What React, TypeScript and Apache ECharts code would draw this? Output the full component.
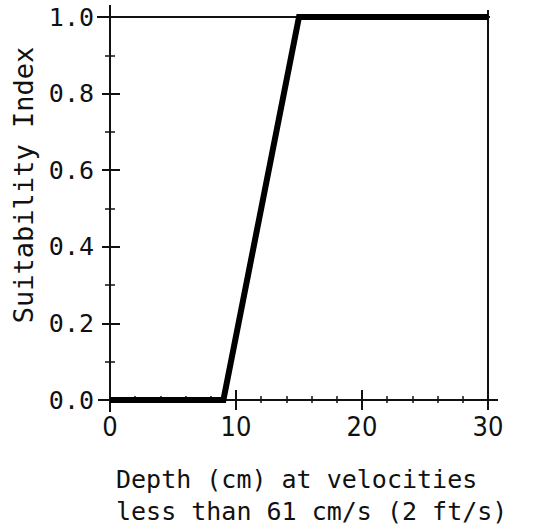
import React, { useEffect, useRef } from "react";
import * as echarts from "echarts";

// Data
const depthCm: number[] = [0, 9, 15, 30];
const suitability: number[] = [0, 0, 1, 1];
const xTicks: number[] = [0, 10, 20, 30];
const yTicks: number[] = [0, 0.2, 0.4, 0.6, 0.8, 1.0];
const xTitleLines: string[] = ["Depth (cm) at velocities", "less than 61 cm/s (2 ft/s)"];
const yTitle = "Suitability Index";

const W = 534;
const H = 529;
const G = { left: 110, right: 46, top: 17, bottom: 129 };
const MONO = "'DejaVu Sans Mono', 'Liberation Mono', monospace";
const NARROW = "'DejaVu Sans Condensed', 'Liberation Sans Narrow', 'DejaVu Sans', sans-serif";
const INK = "#111";

export default function App() {
  const ref = useRef<HTMLDivElement>(null);
  useEffect(() => {
    if (!ref.current) return;
    const chart = echarts.init(ref.current, undefined, { renderer: "svg", width: W, height: H });
    const xMin = xTicks[0];
    const xMax = xTicks[xTicks.length - 1];
    const yMin = yTicks[0];
    const yMax = yTicks[yTicks.length - 1];
    const tickStyle = { color: INK, width: 2 };
    const minorStyle = { color: INK, width: 1.5 };
    const baseX = (extra: any) => ({
      type: "value",
      min: xMin,
      max: xMax,
      splitLine: { show: false },
      axisLine: { show: false },
      axisLabel: { show: false },
      ...extra,
    });
    const baseY = (extra: any) => ({
      type: "value",
      min: yMin,
      max: yMax,
      splitLine: { show: false },
      axisLine: { show: false },
      axisLabel: { show: false },
      ...extra,
    });
    const data = depthCm.map((d, i) => [d, suitability[i]]);
    const left = G.left;
    const right = W - G.right;
    const top = G.top;
    const bottom = H - G.bottom;
    chart.setOption({
      animation: false,
      backgroundColor: "#fff",
      grid: { left: G.left, right: G.right, top: G.top, bottom: G.bottom, containLabel: false },
      xAxis: [
        baseX({
          position: "bottom",
          interval: 10,
          axisTick: { show: true, inside: false, length: 10, lineStyle: tickStyle },
          axisLabel: {
            show: true,
            margin: 13,
            color: INK,
            fontFamily: NARROW,
            fontSize: 27,
          },
        }),
        baseX({
          position: "bottom",
          interval: 2,
          axisTick: { show: true, inside: true, length: 4, lineStyle: minorStyle },
        }),
        baseX({
          position: "top",
          interval: 10,
          axisTick: { show: true, inside: false, length: 10, lineStyle: tickStyle },
        }),
        baseX({
          position: "top",
          interval: 2,
          axisTick: { show: true, inside: true, length: 3, lineStyle: minorStyle },
        }),
      ],
      yAxis: [
        baseY({
          position: "left",
          interval: 0.2,
          axisTick: { show: true, inside: false, length: 8, lineStyle: tickStyle },
          axisLabel: {
            show: true,
            margin: 16,
            color: INK,
            fontFamily: MONO,
            fontSize: 25,
            formatter: (v: number) => v.toFixed(1),
          },
        }),
        baseY({
          position: "left",
          interval: 0.1,
          axisTick: { show: true, inside: true, length: 5, lineStyle: minorStyle },
        }),
        baseY({
          position: "right",
          interval: 0.2,
          axisTick: { show: true, inside: false, length: 10, lineStyle: tickStyle },
        }),
        baseY({
          position: "right",
          interval: 0.1,
          axisTick: { show: true, inside: true, length: 5, lineStyle: minorStyle },
        }),
      ],
      series: [
        {
          type: "line",
          xAxisIndex: 0,
          yAxisIndex: 0,
          data,
          showSymbol: false,
          symbol: "none",
          clip: false,
          lineStyle: { color: "#000", width: 6, join: "miter" },
          z: 5,
        },
      ],
      graphic: [
        { type: "line", shape: { x1: left - 13, y1: top, x2: right + 2, y2: top }, style: { stroke: INK, lineWidth: 2 } },
        { type: "line", shape: { x1: left - 12, y1: bottom, x2: right + 10, y2: bottom }, style: { stroke: INK, lineWidth: 2 } },
        { type: "line", shape: { x1: left, y1: top - 12, x2: left, y2: bottom + 12 }, style: { stroke: INK, lineWidth: 2 } },
        { type: "line", shape: { x1: right, y1: top - 7, x2: right, y2: bottom + 10 }, style: { stroke: INK, lineWidth: 2 } },
        {
          type: "text",
          x: 23,
          y: 185,
          rotation: Math.PI / 2,
          style: {
            text: yTitle,
            fill: INK,
            font: `27px ${MONO}`,
            align: "center",
            verticalAlign: "middle",
            textAlign: "center",
            textVerticalAlign: "middle",
          },
        },
        {
          type: "text",
          x: 116,
          y: 463,
          style: {
            text: xTitleLines.join("\n"),
            fill: INK,
            font: `25px ${MONO}`,
            lineHeight: 32,
            align: "left",
            verticalAlign: "top",
            textAlign: "left",
            textVerticalAlign: "top",
          },
        },
      ],
    });
    return () => chart.dispose();
  }, []);
  return (
    <div
      ref={ref}
      style={{ position: "fixed", left: 0, top: 0, width: W, height: H, background: "#fff" }}
    />
  );
}
